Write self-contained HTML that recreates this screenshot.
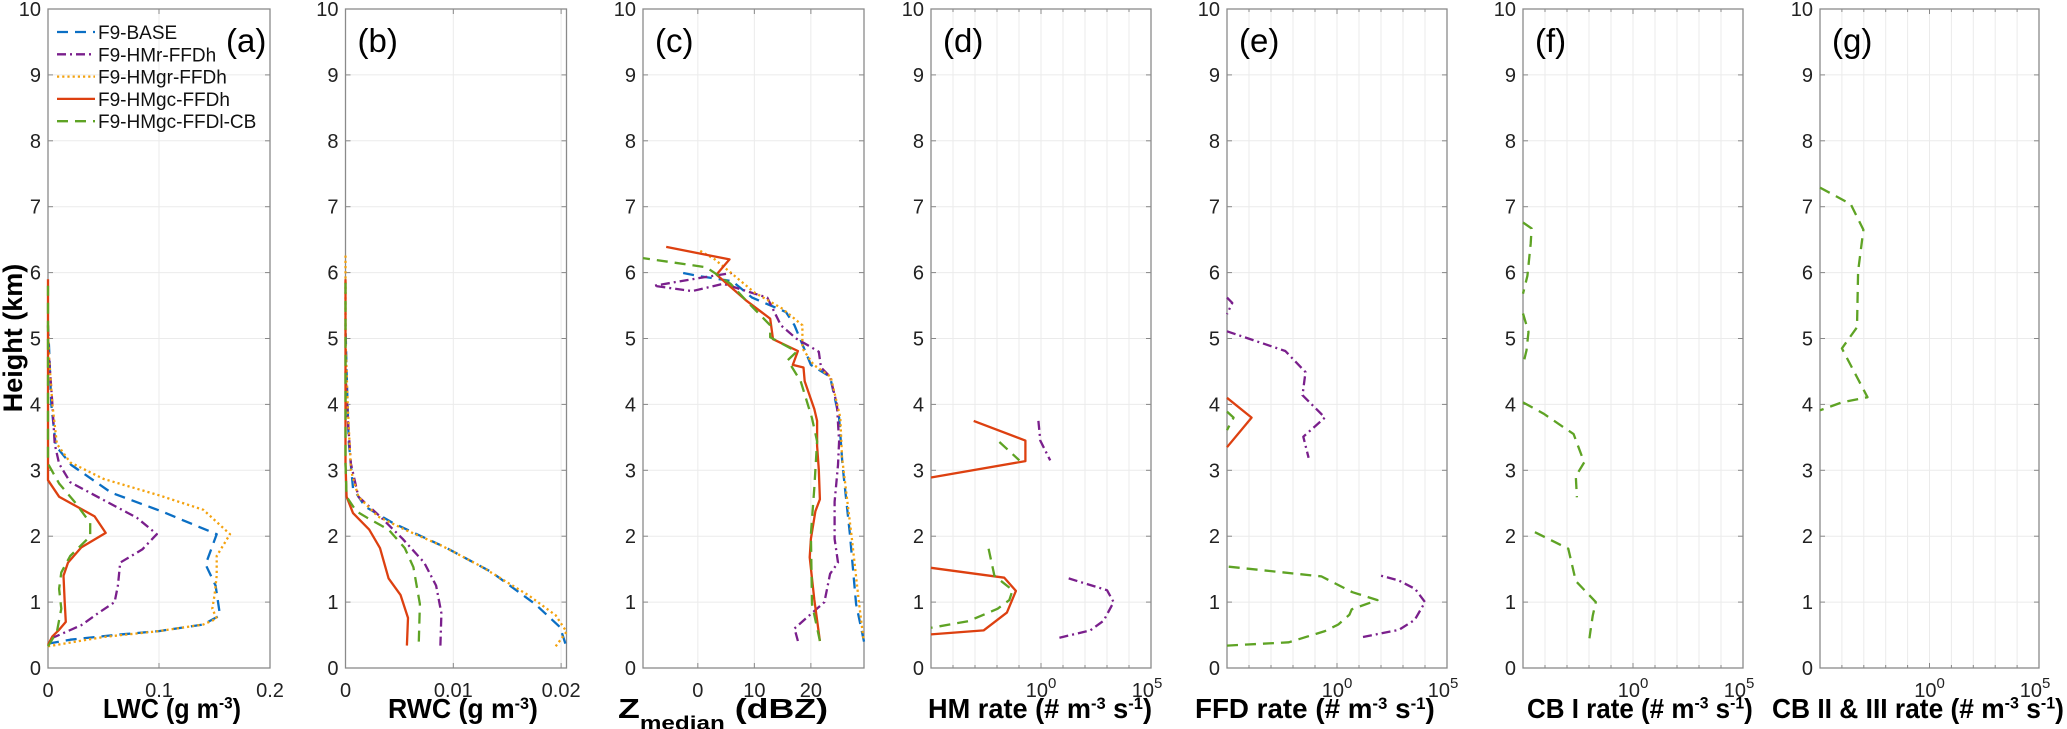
<!DOCTYPE html>
<html><head><meta charset="utf-8"><style>
html,body{margin:0;padding:0;background:#fff;}
svg{display:block;font-family:"Liberation Sans","DejaVu Sans",sans-serif;}
</style></head><body>
<svg id="fig" width="2067" height="729" viewBox="0 0 2067 729" xmlns="http://www.w3.org/2000/svg">
<text x="0" y="0" transform="translate(22,338) rotate(-90)" text-anchor="middle" font-weight="bold" font-size="27">Height (km)</text>
</svg>
<script>
// ---- data (value, height km) ----
const heightTicks=[0,1,2,3,4,5,6,7,8,9,10];
const lwcTicks=[0,0.1,0.2], lwcTickLabels=["0","0.1","0.2"];
const rwcTicks=[0,0.01,0.02], rwcTickLabels=["0","0.01","0.02"];
const zTicks=[0,10,20], zTickLabels=["0","10","20"];
const logDecades=[-5,-4,-3,-2,-1,0,1,2,3,4,5];
const seriesNames=["F9-BASE","F9-HMr-FFDh","F9-HMgr-FFDh","F9-HMgc-FFDh","F9-HMgc-FFDl-CB"];

const lwcBase=[[0,0.37],[0.02,0.43],[0.06,0.5],[0.1,0.56],[0.14,0.66],[0.155,0.8],[0.151,1.25],[0.142,1.57],[0.152,2.03],[0.102,2.38],[0.057,2.66],[0.021,3.08],[0.007,3.37],[0.003,4.0],[0.001,4.85],[0,5.2]];
const lwcHMr=[[0.003,0.45],[0.01,0.5],[0.03,0.65],[0.045,0.83],[0.06,1.0],[0.063,1.25],[0.065,1.6],[0.085,1.8],[0.098,2.03],[0.08,2.28],[0.05,2.55],[0.02,2.82],[0.01,3.1],[0.006,3.4],[0.004,4],[0.001,4.7],[0,5.0]];
const lwcHMgr=[[0,0.33],[0.05,0.47],[0.1,0.56],[0.14,0.66],[0.152,0.75],[0.148,0.9],[0.15,1.1],[0.152,1.4],[0.152,1.7],[0.164,2.03],[0.14,2.4],[0.1,2.62],[0.05,2.87],[0.02,3.12],[0.008,3.4],[0.004,4.0],[0.001,4.7],[0,5.2]];
const lwcHMgc=[[0,0.35],[0.004,0.48],[0.01,0.58],[0.016,0.7],[0.015,1.0],[0.014,1.4],[0.018,1.6],[0.03,1.83],[0.052,2.05],[0.042,2.3],[0.01,2.6],[0,2.85],[0,5.9]];
const lwcCB=[[0,0.33],[0.008,0.55],[0.012,0.9],[0.01,1.2],[0.012,1.45],[0.02,1.7],[0.038,2.0],[0.038,2.2],[0.025,2.5],[0.01,2.8],[0,3.1],[0,5.8]];

const rwcBase=[[0.0204,0.37],[0.0199,0.62],[0.0176,0.97],[0.0135,1.46],[0.0094,1.82],[0.0044,2.2],[0.0018,2.45],[0.0007,2.73],[0.0003,3.44],[0.0001,4.5],[0,5.2]];
const rwcHMr=[[0.0088,0.34],[0.0089,0.83],[0.0084,1.25],[0.0073,1.6],[0.0053,1.96],[0.0032,2.3],[0.0012,2.6],[0.0005,3.1],[0.0002,3.8],[0,4.5]];
const rwcHMgr=[[0.0195,0.33],[0.0205,0.55],[0.0195,0.8],[0.017,1.1],[0.0125,1.55],[0.009,1.85],[0.0055,2.1],[0.003,2.3],[0.0012,2.6],[0.0005,3.0],[0.0002,4.0],[0,5.0],[0,6.3]];
const rwcHMgc=[[0.0057,0.34],[0.0058,0.76],[0.0051,1.11],[0.004,1.36],[0.0032,1.82],[0.0022,2.1],[0.0007,2.35],[0.0001,2.6],[0,3.1],[0,5.9]];
const rwcCB=[[0.0068,0.4],[0.0069,0.97],[0.0063,1.53],[0.0055,1.82],[0.004,2.1],[0.002,2.28],[0.001,2.38],[0.0001,2.6],[0,3.1],[0,5.9]];

const zBase=[[29.4,0.4],[28,0.97],[26.9,2.03],[25.6,3.08],[25,3.8],[23.4,4.42],[20,4.6],[17.1,5.2],[15.6,5.4],[9.6,5.62],[6.1,5.87],[0,5.95],[-3,6.0]];
const zHMr=[[17.7,0.41],[17.1,0.6],[22.4,1.0],[23.4,1.43],[24.8,1.6],[24.2,1.96],[24.2,2.52],[24.8,3.08],[25.0,3.44],[24.6,4.0],[23.4,4.42],[21.8,4.56],[21.4,4.8],[17.4,5.0],[14.7,5.2],[12.3,5.62],[4.5,5.83],[-1,5.72],[-7.8,5.8],[0.4,5.92],[6.4,6.0]];
const zHMgr=[[29.3,0.45],[28.5,1.0],[27.2,2.0],[26.5,2.5],[25.5,3.2],[25.2,3.8],[23.5,4.42],[20.5,4.6],[18.5,4.85],[18.5,5.2],[15,5.45],[10,5.7],[6.5,5.95],[3,6.2],[0,6.35]];
const zHMgc=[[21.6,0.41],[20.6,1.04],[19.8,1.68],[20,1.96],[20.8,2.38],[21.6,2.56],[21.4,3.01],[21.1,3.37],[21.1,3.75],[20.6,3.93],[18.9,4.35],[18.7,4.56],[16.8,4.6],[17.7,4.81],[13.3,4.99],[12.8,5.3],[8.5,5.58],[3.3,5.97],[5.6,6.2],[-5.6,6.39]];
const zCB=[[21.6,0.41],[20.2,0.97],[20,2.03],[20.6,2.73],[21.1,3.44],[20.2,3.79],[18.2,4.35],[15.9,4.67],[17.5,4.8],[12.8,5.02],[12.8,5.2],[8.5,5.58],[5.8,5.83],[1.5,6.08],[-9.7,6.22]];

// log10 values
const hmHMr=[[[-0.12,3.75],[-0.03,3.45],[0.42,3.15]],[[1.26,1.36],[3.0,1.18],[3.3,1.0],[2.85,0.72],[2.24,0.57],[0.73,0.45]]];
const hmHMgc=[[[-3.06,3.75],[-0.71,3.45],[-0.71,3.14],[-5,2.89]],[[-5,1.52],[-1.67,1.37],[-1.14,1.17],[-1.55,0.84],[-2.61,0.57],[-5,0.51]]];
const hmCB=[[[-1.89,3.43],[-0.98,3.15]],[[-2.38,1.81],[-2.12,1.4],[-1.29,1.18],[-1.44,1.03],[-1.97,0.9],[-3.3,0.71],[-5,0.61]]];

const ffdHMr=[[[-5,5.62],[-4.76,5.54],[-5,5.37]],[[-5,5.11],[-2.35,4.81],[-1.43,4.49],[-1.57,4.14],[-0.55,3.8],[-1.53,3.51],[-1.29,3.19]],[[1.18,0.47],[2.82,0.58],[3.53,0.73],[4.0,1.0],[3.55,1.2],[2.8,1.33],[1.9,1.41]]];
const ffdHMgc=[[[-5,4.1],[-3.88,3.8],[-5,3.35]]];
const ffdCB=[[[-5,3.89],[-4.7,3.8],[-5,3.61]],[[-5,0.34],[-2.19,0.39],[-0.55,0.56],[0.06,0.66],[0.57,0.81],[0.67,0.89],[1.84,1.03],[0.7,1.15],[-0.71,1.39],[-5,1.54]]];

const cb1CB=[[[-5,6.76],[-4.61,6.67],[-4.65,6.44],[-4.8,5.95],[-5,5.68]],[[-5,5.38],[-4.75,5.1],[-4.84,4.82],[-5,4.6]],[[-5,4.03],[-4.07,3.86],[-2.7,3.55],[-2.22,3.12],[-2.6,2.91],[-2.55,2.59]],[[-4.46,2.06],[-2.94,1.81],[-2.6,1.32],[-1.69,1.0],[-1.83,0.79],[-1.98,0.45]]];
const cb23CB=[[[-5,7.29],[-3.6,7.04],[-3.02,6.65],[-3.26,6.02],[-3.31,5.17],[-4.0,4.85],[-2.83,4.11],[-4,4.03],[-5,3.91]]];

// ---- styles ----
const ST={
 base:{c:"#0b6fc4",d:"11,7"},
 hmr:{c:"#7a1f8c",d:"9,4,2,4"},
 hmgr:{c:"#f4a20e",d:"2.2,3"},
 hmgc:{c:"#dd4010",d:""},
 cb:{c:"#5ea324",d:"11,7"}
};
const NS="http://www.w3.org/2000/svg";
const svg=document.getElementById('fig');
const Y0=668, PK=65.9;
function yS(h){return Y0-h*PK;}
function mk(tag,attrs,parent){const e=document.createElementNS(NS,tag);for(const k in attrs)e.setAttribute(k,attrs[k]);(parent||svg).appendChild(e);return e;}

const SUP='<tspan baseline-shift="super" font-size="17">';
const panels=[
 {id:"a",left:48,w:222,min:0,max:0.2,log:false,ticks:lwcTicks,labels:lwcTickLabels,tc:172,tl:138,title:'LWC (g m'+SUP+'-3</tspan>)'},
 {id:"b",left:345.5,w:221,min:0,max:0.0205,log:false,ticks:rwcTicks,labels:rwcTickLabels,tc:463,tl:150,title:'RWC (g m'+SUP+'-3</tspan>)'},
 {id:"c",left:643,w:221,min:-9.7,max:29.4,log:false,ticks:zTicks,labels:zTickLabels,tc:723,tl:210,title:'Z<tspan baseline-shift="sub" font-size="19">median</tspan> (dBZ)'},
 {id:"d",left:931,w:220,min:-5,max:5,log:true,tc:1040,tl:224,title:'HM rate (# m'+SUP+'-3</tspan> s'+SUP+'-1</tspan>)'},
 {id:"e",left:1227,w:220,min:-5,max:5,log:true,tc:1315,tl:240,title:'FFD rate (# m'+SUP+'-3</tspan> s'+SUP+'-1</tspan>)'},
 {id:"f",left:1523,w:220,min:-5,max:5,log:true,tc:1640,tl:226,title:'CB I rate (# m'+SUP+'-3</tspan> s'+SUP+'-1</tspan>)'},
 {id:"g",left:1820,w:219,min:-5,max:5,log:true,tc:1918,tl:292,title:'CB II &amp; III rate (# m'+SUP+'-3</tspan> s'+SUP+'-1</tspan>)'}
];

function drawPanel(p){
 const g=mk('g',{});
 
 
 const xS=v=>p.left+(v-p.min)/(p.max-p.min)*p.w;
 p.xS=xS;
 const top=yS(10), bot=yS(0), right=p.left+p.w;
 const xt=p.log?logDecades:p.ticks;
 xt.forEach(v=>{const l=mk('line',{x1:xS(v),x2:xS(v),y1:top,y2:bot,stroke:"#ebebeb","stroke-width":1},g);
  });
 heightTicks.forEach(h=>{const l=mk('line',{x1:p.left,x2:right,y1:yS(h),y2:yS(h),stroke:"#ebebeb","stroke-width":1},g);
  });
 heightTicks.forEach(h=>{
  mk('line',{x1:p.left,x2:p.left+5,y1:yS(h),y2:yS(h),stroke:"#888"},g);
  mk('line',{x1:right,x2:right-5,y1:yS(h),y2:yS(h),stroke:"#888"},g);
  const t=mk('text',{x:p.left-7,y:yS(h)+7,"text-anchor":"end","font-size":"20",fill:"#222"},g);
  
  t.textContent=String(h);
 });
 xt.forEach(v=>{
  const len=(p.log&&v!==0)?3:5;
  mk('line',{x1:xS(v),x2:xS(v),y1:bot,y2:bot-len,stroke:"#888"},g);
  mk('line',{x1:xS(v),x2:xS(v),y1:top,y2:top+len,stroke:"#888"},g);
 });
 if(p.log){
  [0,5].forEach(v=>{
   const t=mk('text',{x:xS(v)+(v===5?-4:0),y:697,"text-anchor":"middle","font-size":"20",fill:"#222"},g);
   
   t.innerHTML='10<tspan dy="-9" font-size="15">'+v+'</tspan>';
  });
 } else {
  p.ticks.forEach((v,i)=>{
   const t=mk('text',{x:xS(v),y:697,"text-anchor":"middle","font-size":"20",fill:"#222"},g);
   
   t.textContent=p.labels[i];
  });
 }
 const r=mk('rect',{x:p.left,y:top,width:p.w,height:bot-top,fill:"none",stroke:"#8a8a8a","stroke-width":1.3},g);
 
 const tt=mk('text',{x:0,y:0,"font-size":"28","font-weight":"bold",fill:"#000"},g);
 
 tt.innerHTML=p.title;
 const bb=tt.getBBox();
 const sx=p.tl/(bb.width||p.tl);
 tt.setAttribute('transform','translate('+(p.tc-p.tl/2)+',718) scale('+sx.toFixed(3)+',1) translate('+(-bb.x)+',0)');
 const pl=mk('text',{x:p.id==='a'?226:p.left+12,y:52,"font-size":"33",fill:"#000"},g);
 
 pl.textContent='('+p.id+')';
 return g;
}
function drawLine(p,pts,st,name){
 const d=pts.map((q,i)=>(i?'L':'M')+p.xS(q[0]).toFixed(1)+','+yS(q[1]).toFixed(1)).join('');
 const e=mk('path',{d:d,fill:"none",stroke:st.c,"stroke-width":2.3,"stroke-dasharray":st.d,"stroke-linejoin":"round"});
 
 
}
const P=panels.map(p=>{drawPanel(p);return p;});
drawLine(P[0],lwcBase,ST.base,'line-f9-base');
drawLine(P[0],lwcHMr,ST.hmr,'line-f9-hmr-ffdh');
drawLine(P[0],lwcHMgr,ST.hmgr,'line-f9-hmgr-ffdh');
drawLine(P[0],lwcHMgc,ST.hmgc,'line-f9-hmgc-ffdh');
drawLine(P[0],lwcCB,ST.cb,'line-f9-hmgc-ffdl-cb');
drawLine(P[1],rwcBase,ST.base,'line-f9-base');
drawLine(P[1],rwcHMr,ST.hmr,'line-f9-hmr-ffdh');
drawLine(P[1],rwcHMgr,ST.hmgr,'line-f9-hmgr-ffdh');
drawLine(P[1],rwcHMgc,ST.hmgc,'line-f9-hmgc-ffdh');
drawLine(P[1],rwcCB,ST.cb,'line-f9-hmgc-ffdl-cb');
drawLine(P[2],zBase,ST.base,'line-f9-base');
drawLine(P[2],zHMr,ST.hmr,'line-f9-hmr-ffdh');
drawLine(P[2],zHMgr,ST.hmgr,'line-f9-hmgr-ffdh');
drawLine(P[2],zHMgc,ST.hmgc,'line-f9-hmgc-ffdh');
drawLine(P[2],zCB,ST.cb,'line-f9-hmgc-ffdl-cb');
hmHMr.forEach(s=>drawLine(P[3],s,ST.hmr,'line-f9-hmr-ffdh'));
hmHMgc.forEach(s=>drawLine(P[3],s,ST.hmgc,'line-f9-hmgc-ffdh'));
hmCB.forEach(s=>drawLine(P[3],s,ST.cb,'line-f9-hmgc-ffdl-cb'));
ffdHMr.forEach(s=>drawLine(P[4],s,ST.hmr,'line-f9-hmr-ffdh'));
ffdHMgc.forEach(s=>drawLine(P[4],s,ST.hmgc,'line-f9-hmgc-ffdh'));
ffdCB.forEach(s=>drawLine(P[4],s,ST.cb,'line-f9-hmgc-ffdl-cb'));
cb1CB.forEach(s=>drawLine(P[5],s,ST.cb,'line-f9-hmgc-ffdl-cb'));
cb23CB.forEach(s=>drawLine(P[6],s,ST.cb,'line-f9-hmgc-ffdl-cb'));

const lg=mk('g',{});


const legStyles=[ST.base,ST.hmr,ST.hmgr,ST.hmgc,ST.cb];
seriesNames.forEach((n,i)=>{
 const y=32+i*22.3;
 const en=mk('g',{},lg);
 
 
 mk('line',{x1:57,x2:95,y1:y,y2:y,stroke:legStyles[i].c,"stroke-width":2.3,"stroke-dasharray":legStyles[i].d},en);
 const t=mk('text',{x:98,y:y+7,"font-size":"19",fill:"#111"},en);
 t.textContent=n;
});
</script>
</body></html>
